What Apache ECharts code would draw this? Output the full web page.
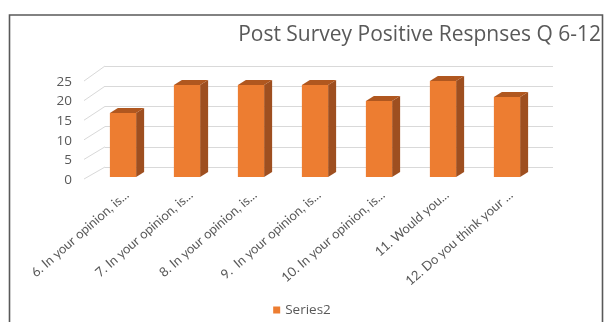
<!DOCTYPE html>
<html><head><meta charset="utf-8">
<script src="https://cdn.jsdelivr.net/npm/echarts@6/dist/echarts.min.js"></script>
<style>html,body{margin:0;padding:0;background:#fff;}#c{width:604px;height:322px;}</style>
</head><body><div id="c"></div>
<script>
const categories = ["6. In your opinion, is...","7. In your opinion, is...","8. In your opinion, is...","9.  In your opinion, is...","10. In your opinion, is...","11. Would you...","12. Do you think your ..."];
const seriesName = "Series2";
const values = [16, 23, 23, 23, 19, 24, 20];
const yTicks = [0, 5, 10, 15, 20, 25];
const titleText = "Post Survey Positive Respnses Q 6-12";

const FONT = "'Open Sans', sans-serif";
const GRAY = '#595959';
const chart = echarts.init(document.getElementById('c'), null, {renderer: 'canvas'});
const DX = 8, DY = -5;
const option = {
  animation: false,
  backgroundColor: '#fff',
  title: {text: titleText, right: -2, top: 20, textStyle: {fontFamily: FONT, fontWeight: 'normal', fontSize: 21, color: GRAY}},
  legend: {top: 298, left: 'center', itemWidth: 7, itemHeight: 7, itemGap: 4, icon: 'rect',
    textStyle: {fontFamily: FONT, fontSize: 13.5, color: GRAY}, data: [seriesName]},
  grid: [
    {left: 78, width: 448, top: 82, height: 98},   // y labels (front)
    {left: 91, width: 448, top: 77, height: 100},  // bars
    {left: 105, width: 448, top: 66, height: 101}, // back wall
    {left: 95, width: 448, top: 82, height: 98}    // x labels
  ],
  xAxis: [
    {gridIndex: 0, type: 'category', data: categories, show: false},
    {gridIndex: 1, type: 'category', data: categories, show: false},
    {gridIndex: 2, type: 'category', data: categories, show: false},
    {gridIndex: 3, type: 'category', data: categories, axisLine: {show: false}, axisTick: {show: false},
      axisLabel: {rotate: 41, interval: 0, margin: 13, fontFamily: "Lato, sans-serif", fontSize: 13, color: GRAY}}
  ],
  yAxis: [
    {gridIndex: 0, type: 'value', min: 0, max: 25, interval: 5, splitLine: {show: false}, axisLine: {show: false}, axisTick: {show: false},
      axisLabel: {margin: 6, fontFamily: FONT, fontSize: 13.5, color: GRAY}},
    {gridIndex: 1, type: 'value', min: 0, max: 25, interval: 5, show: false},
    {gridIndex: 2, type: 'value', min: 0, max: 25, interval: 5, axisLabel: {show: false}, axisLine: {show: false}, axisTick: {show: false},
      splitLine: {show: true, lineStyle: {color: '#d9d9d9', width: 1}}},
    {gridIndex: 3, type: 'value', min: 0, max: 25, interval: 5, show: false}
  ],
  series: [{
    name: seriesName, type: 'custom', xAxisIndex: 1, yAxisIndex: 1,
    itemStyle: {color: '#ED7D31'},
    data: values.map((v, i) => [i, v]),
    encode: {x: 0, y: 1},
    renderItem: function (params, api) {
      const i = api.value(0), v = api.value(1);
      const b = api.coord([i, 0]), t = api.coord([i, v]);
      const w = api.size([1, 0])[0] * 0.41;
      const xl = b[0] - w / 2, xr = b[0] + w / 2, yb = b[1], yt = t[1];
      return {type: 'group', children: [
        {type: 'polygon', shape: {points: [[xr, yt], [xr + DX, yt + DY], [xr + DX, yb + DY], [xr, yb]]}, style: {fill: '#9E4F20'}},
        {type: 'polygon', shape: {points: [[xl, yt], [xl + DX, yt + DY], [xr + DX, yt + DY], [xr, yt]]}, style: {fill: '#B0571F'}},
        {type: 'rect', shape: {x: xl, y: yt, width: w, height: yb - yt}, style: {fill: '#ED7D31'}}
      ]};
    }
  }]
};
chart.setOption(option);
// diagonal floor/wall connectors computed from axes
const diag = yTicks.map(v => {
  const front = chart.convertToPixel({gridIndex: 0}, [0, v]);
  const back = chart.convertToPixel({gridIndex: 2}, [0, v]);
  const frontX = chart.getModel().getComponent('grid', 0).coordinateSystem.getRect().x + 6;
  const backX = chart.getModel().getComponent('grid', 2).coordinateSystem.getRect().x;
  return {type: 'line', silent: true, z: 0, shape: {x1: frontX, y1: front[1] - 1, x2: backX, y2: back[1]}, style: {stroke: '#d9d9d9', lineWidth: 1}};
});
diag.push({type: 'rect', silent: true, z: 10, shape: {x: 9.5, y: 15, width: 593, height: 330},
  style: {fill: 'none', stroke: '#595959', lineWidth: 1.6}});
chart.setOption({graphic: diag});
</script></body></html>
